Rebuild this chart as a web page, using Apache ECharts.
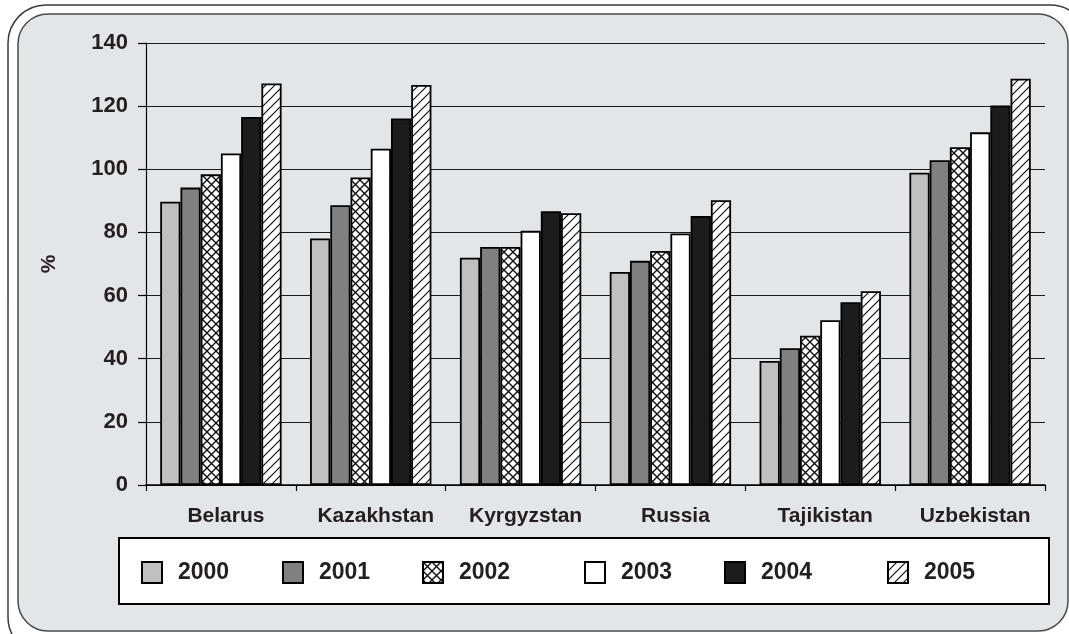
<!DOCTYPE html>
<html>
<head>
<meta charset="utf-8">
<script src="https://cdn.jsdelivr.net/npm/echarts@6/dist/echarts.min.js"></script>
<style>
  html, body { margin: 0; padding: 0; background: #ffffff; }
  #chart { width: 1069px; height: 634px; }
</style>
</head>
<body>
<div id="chart"></div>
<script>
// Gross enrolment by country, percent, 2000-2005
const countries = ['Belarus', 'Kazakhstan', 'Kyrgyzstan', 'Russia', 'Tajikistan', 'Uzbekistan'];
const years = ['2000', '2001', '2002', '2003', '2004', '2005'];
const y2000 = [89.7, 78.1, 72.0, 67.5, 39.3, 98.9];
const y2001 = [94.2, 88.6, 75.4, 71.0, 43.3, 102.9];
const y2002 = [98.4, 97.4, 75.4, 74.1, 47.3, 107.0];
const y2003 = [105.0, 106.5, 80.5, 79.7, 52.2, 111.7];
const y2004 = [116.6, 116.1, 86.7, 85.2, 57.9, 120.2];
const y2005 = [127.2, 126.7, 86.1, 90.2, 61.4, 128.7];
const yTicks = [0, 20, 40, 60, 80, 100, 120, 140];

// Pattern tiles for the hatched bars
function crossHatch() {
  const s = 9;
  const c = document.createElement('canvas');
  c.width = s; c.height = s;
  const g = c.getContext('2d');
  g.fillStyle = '#ffffff';
  g.fillRect(0, 0, s, s);
  g.strokeStyle = '#111111';
  g.lineWidth = 1.4;
  g.beginPath();
  g.moveTo(-1, -1); g.lineTo(s + 1, s + 1);
  g.moveTo(-1, s + 1); g.lineTo(s + 1, -1);
  g.stroke();
  return c;
}
function diagHatch() {
  const s = 9;
  const c = document.createElement('canvas');
  c.width = s; c.height = s;
  const g = c.getContext('2d');
  g.fillStyle = '#ffffff';
  g.fillRect(0, 0, s, s);
  g.strokeStyle = '#111111';
  g.lineWidth = 1.2;
  g.beginPath();
  g.moveTo(-1, s + 1); g.lineTo(s + 1, -1);
  g.moveTo(-2, 2); g.lineTo(2, -2);
  g.moveTo(s - 2, s + 2); g.lineTo(s + 2, s - 2);
  g.stroke();
  return c;
}

const fills = [
  '#c0c0c0',
  '#808080',
  { image: crossHatch(), repeat: 'repeat' },
  '#ffffff',
  '#1c1c1c',
  { image: diagHatch(), repeat: 'repeat' }
];
const values = [y2000, y2001, y2002, y2003, y2004, y2005];
const legendLeft = [136, 277, 417, 579, 719, 882];

const FONT = '"Liberation Sans", Arial, sans-serif';
const TEXT = '#231f20';

const chart = echarts.init(document.getElementById('chart'), null, { renderer: 'canvas' });

const series = years.map((y, i) => ({
  name: y,
  type: 'bar',
  data: values[i],
  barGap: '0%',
  barCategoryGap: '19%',
  itemStyle: { color: fills[i], borderColor: '#000000', borderWidth: 1.8 },
  emphasis: { disabled: true }
}));

const legends = years.map((y, i) => ({
  data: [y],
  left: legendLeft[i],
  top: 556,
  icon: 'rect',
  itemWidth: 20,
  itemHeight: 21,
  selectedMode: false,
  textStyle: { fontFamily: FONT, fontWeight: 'bold', fontSize: 23, color: TEXT, padding: [6, 0, 0, 11] }
}));

chart.setOption({
  animation: false,
  backgroundColor: 'transparent',
  graphic: [
    { type: 'rect', z: -10, shape: { x: 8, y: 5, width: 1080, height: 650, r: 38 },
      style: { fill: '#ffffff', stroke: '#3a3a3a', lineWidth: 1.5 } },
    { type: 'rect', z: -9, shape: { x: 18, y: 14, width: 1050, height: 617, r: 30 },
      style: { fill: '#e4e5e7', stroke: '#4a4a4a', lineWidth: 1.5 } },
    { type: 'rect', z: -8, shape: { x: 119, y: 538, width: 930, height: 66 },
      style: { fill: '#ffffff', stroke: '#000000', lineWidth: 2 } }
  ],
  legend: legends,
  grid: { left: 146, right: 24, top: 43, bottom: 149, containLabel: false },
  xAxis: {
    type: 'category',
    data: countries,
    axisLine: { lineStyle: { color: '#000000', width: 1.5 } },
    axisTick: { show: true, length: 6, lineStyle: { color: '#000000', width: 1.2 } },
    axisLabel: { interval: 0, margin: 21, fontFamily: FONT, fontWeight: 'bold', fontSize: 21, color: TEXT, padding: [0, 0, 0, 10] }
  },
  yAxis: {
    type: 'value',
    min: yTicks[0],
    max: yTicks[yTicks.length - 1],
    interval: 20,
    name: '%',
    nameLocation: 'middle',
    nameRotate: 90,
    nameGap: 86,
    nameTextStyle: { fontFamily: FONT, fontWeight: 'bold', fontSize: 21, color: TEXT },
    axisLine: { show: true, lineStyle: { color: '#000000', width: 1.2 } },
    axisTick: { show: true, length: 8, lineStyle: { color: '#000000', width: 1.2 } },
    axisLabel: { margin: 18, fontFamily: FONT, fontWeight: 'bold', fontSize: 22, color: TEXT },
    splitLine: { show: true, lineStyle: { color: '#1a1a1a', width: 1.2 } }
  },
  series: series
});
</script>
</body>
</html>
